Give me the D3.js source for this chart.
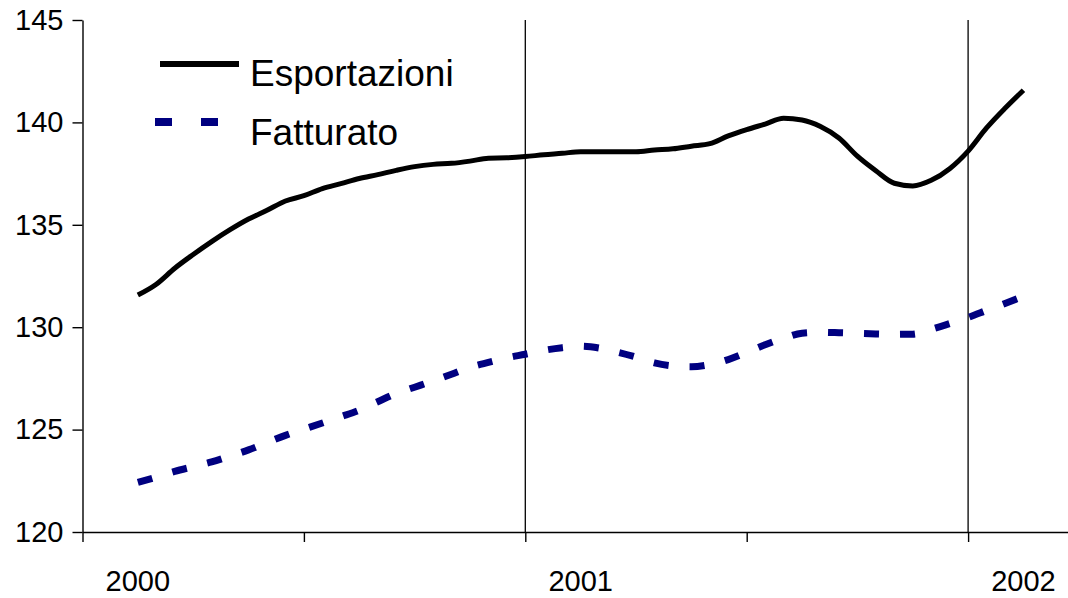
<!DOCTYPE html>
<html>
<head>
<meta charset="utf-8">
<script src="https://cdn.jsdelivr.net/npm/d3@7"></script>
<style>
  body { margin: 0; background: #fff; }
  svg { display: block; font-family: Arial, "Liberation Sans", sans-serif; }
</style>
</head>
<body>
<div id="chart"></div>
<script>
// Months since January 2000 (half-month steps)
var mesi = [0, 0.5, 1, 1.5, 2, 2.5, 3, 3.5, 4, 4.5, 5, 5.5, 6, 6.5, 7, 7.5, 8, 8.5, 9, 9.5,
    10, 10.5, 11, 11.5, 12, 12.5, 13, 13.5, 14, 14.5, 15, 15.5, 16, 16.5, 17, 17.5, 18, 18.5, 19, 19.5,
    20, 20.5, 21, 21.5, 22, 22.5, 23, 23.5, 24];

var esportazioni = [131.57, 132.1, 132.88, 133.55, 134.18, 134.76, 135.28, 135.71, 136.16, 136.42,
    136.77, 137.01, 137.26, 137.45, 137.66, 137.84, 137.95, 138.0, 138.11, 138.25,
    138.27, 138.33, 138.42, 138.49, 138.57, 138.57, 138.57, 138.57, 138.65, 138.71,
    138.84, 138.96, 139.34, 139.65, 139.92, 140.2, 140.12, 139.8, 139.24, 138.35,
    137.64, 137.03, 136.9, 137.17, 137.74, 138.6, 139.73, 140.69, 141.57];

var fatturato = [122.42, 122.68, 122.96, 123.19, 123.42, 123.71, 124.01, 124.37, 124.72, 125.02,
    125.32, 125.63, 125.95, 126.36, 126.76, 127.07, 127.38, 127.7, 128.04, 128.28,
    128.5, 128.68, 128.87, 129.0, 129.07, 128.98, 128.78, 128.54, 128.26, 128.11,
    128.07, 128.18, 128.42, 128.77, 129.14, 129.46, 129.71, 129.75, 129.73, 129.7,
    129.67, 129.65, 129.66, 129.9, 130.18, 130.48, 130.82, 131.16, 131.51];

var yTicks = [120, 125, 130, 135, 140, 145];
var xTicks = [-1.5, 4.5, 10.5, 16.5, 22.5, 28.5];   // half-year marks
var yearLines = [10.5, 22.5];
var anni = [{ m: 0, label: "2000" }, { m: 12, label: "2001" }, { m: 24, label: "2002" }];

var w = 1068;
var h = 598;

var xScale = d3.scaleLinear()
    .domain([-1.5, 28.5])
    .range([82.5, 82.5 + 30 * 36.9]);

var yScale = d3.scaleLinear()
    .domain([120, 145])
    .range([532, 20]);

var svg = d3.select("#chart")
    .append("svg")
    .attr("width", w)
    .attr("height", h);

// vertical year separators
svg.selectAll("line.year")
    .data(yearLines)
    .enter()
    .append("line")
    .attr("class", "year")
    .attr("x1", function(d) { return xScale(d); })
    .attr("x2", function(d) { return xScale(d); })
    .attr("y1", yScale(145))
    .attr("y2", yScale(120))
    .attr("stroke", "#000")
    .attr("stroke-width", 1.3);

// y axis
var yAxis = svg.append("g")
    .attr("transform", "translate(" + xScale(-1.5) + ",0)")
    .call(d3.axisLeft(yScale).tickValues(yTicks).tickSize(10).tickSizeOuter(0).tickPadding(9));

// x axis
var xAxis = svg.append("g")
    .attr("transform", "translate(0," + yScale(120) + ")")
    .call(d3.axisBottom(xScale).tickValues(xTicks).tickSize(10).tickSizeOuter(0).tickFormat(""));

svg.selectAll(".domain, .tick line")
    .attr("stroke", "#000")
    .attr("stroke-width", 1.4);

yAxis.selectAll("text")
    .attr("fill", "#000")
    .style("font-size", "29px")
    .style("font-family", "Arial, 'Liberation Sans', sans-serif");

// year labels
svg.selectAll("text.anno")
    .data(anni)
    .enter()
    .append("text")
    .attr("class", "anno")
    .attr("x", function(d) { return xScale(d.m); })
    .attr("y", 591)
    .attr("text-anchor", "middle")
    .style("font-size", "29px")
    .text(function(d) { return d.label; });

var line = function(values) {
    return d3.line()
        .x(function(d, i) { return xScale(mesi[i]); })
        .y(function(d) { return yScale(d); })
        .curve(d3.curveMonotoneX)(values);
};

svg.append("path")
    .attr("d", line(fatturato))
    .attr("fill", "none")
    .attr("stroke", "#000080")
    .attr("stroke-width", 7)
    .attr("stroke-dasharray", "15,21");

svg.append("path")
    .attr("d", line(esportazioni))
    .attr("fill", "none")
    .attr("stroke", "#000")
    .attr("stroke-width", 5);

// legend
svg.append("line")
    .attr("x1", 160).attr("x2", 239)
    .attr("y1", 64).attr("y2", 64)
    .attr("stroke", "#000")
    .attr("stroke-width", 6);

svg.append("line")
    .attr("x1", 155).attr("x2", 218)
    .attr("y1", 122).attr("y2", 122)
    .attr("stroke", "#000080")
    .attr("stroke-width", 8)
    .attr("stroke-dasharray", "17,29");

svg.append("text")
    .attr("x", 250).attr("y", 86)
    .style("font-size", "37px")
    .text("Esportazioni");

svg.append("text")
    .attr("x", 250).attr("y", 145)
    .style("font-size", "37px")
    .text("Fatturato");
</script>
</body>
</html>
